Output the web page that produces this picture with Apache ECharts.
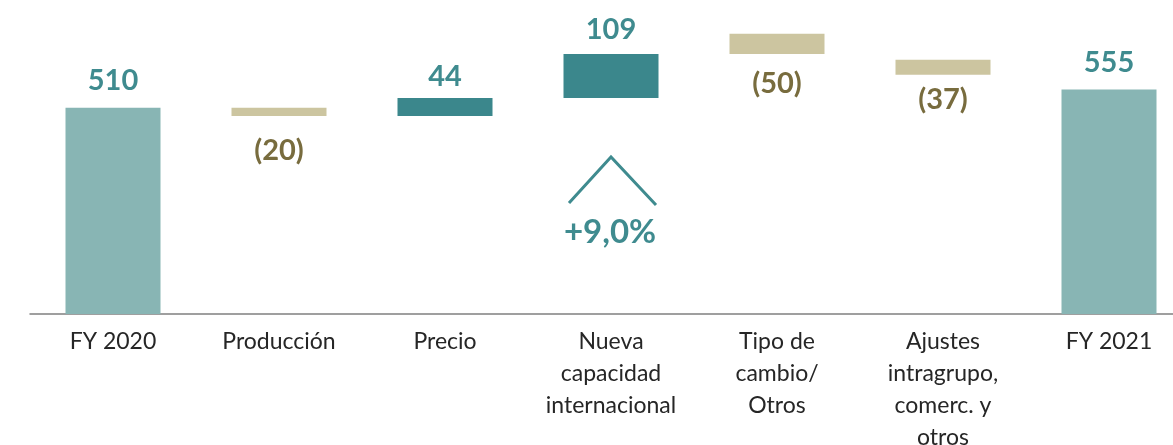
<!DOCTYPE html>
<html>
<head>
<meta charset="UTF-8" />
<title>Puente FY 2020 - FY 2021</title>
<script src="https://cdn.jsdelivr.net/npm/echarts@6/dist/echarts.min.js"></script>
<style type="text/css">
body{
	margin: 0px;
	background: #fff;
}
#chart{
	width: 1173px;
	height: 445px;
}
</style>
</head>
<body>
<div id="chart"></div>
<script type="text/javascript">

// categorias del eje x
var categories = ['FY 2020', 'Producción', 'Precio', 'Nueva\ncapacidad\ninternacional',
	'Tipo de\ncambio/\nOtros', 'Ajustes\nintragrupo,\ncomerc. y\notros', 'FY 2021'];
// base invisible
var baseValues = [0, 490, 490, 534, 643, 592, 0];
// altura de cada barra
var barValues = [510, 20, 44, 109, 50, 37, 555];
var barLabels = ['510', '(20)', '44', '109', '(50)', '(37)', '555'];
// tipo: total, sube, baja
var barKinds = ['total', 'down', 'up', 'up', 'down', 'down', 'total'];

var colors = {
	total: '#88b5b4',
	up: '#3b878c',
	down: '#ccc5a0'
};
var labelColors = {
	total: '#3f8b8f',
	up: '#3f8b8f',
	down: '#786c3e'
};
// separacion de la etiqueta respecto a la barra
var labelGap = [13, 20, 7, 10, 15, 10, 12];

var barData = barValues.map(function(v, i){
	var k = barKinds[i];
	return {
		value: v,
		itemStyle: { color: colors[k] },
		label: {
			show: true,
			position: k === 'down' ? 'bottom' : 'top',
			distance: labelGap[i],
			formatter: barLabels[i],
			color: labelColors[k],
			fontSize: 29,
			fontWeight: 'bold',
			fontFamily: 'Lato'
		}
	};
});

var chart = echarts.init(document.getElementById('chart'));
chart.setOption({
	animation: false,
	grid: { left: 30, top: 31, width: 1162, bottom: 131, outerBoundsMode: 'none', containLabel: false },
	xAxis: {
		type: 'category',
		data: categories,
		axisLine: { lineStyle: { color: '#808080', width: 1.5 } },
		axisTick: { show: false },
		axisLabel: {
			interval: 0,
			color: '#262626',
			fontSize: 23,
			lineHeight: 32,
			margin: 12,
			fontFamily: 'Lato'
		}
	},
	yAxis: {
		type: 'value',
		min: 0,
		max: 700,
		show: false
	},
	series: [
		{
			type: 'bar',
			stack: 'w',
			barWidth: 95,
			itemStyle: { color: 'transparent' },
			silent: true,
			data: baseValues
		},
		{
			type: 'bar',
			stack: 'w',
			barWidth: 95,
			data: barData
		}
	],
	graphic: [
		{
			type: 'polyline',
			shape: { points: [[569, 203], [611, 157], [656, 205]] },
			style: { stroke: '#3f8b8f', lineWidth: 3, fill: null }
		},
		{
			type: 'text',
			x: 610,
			y: 232,
			style: {
				text: '+9,0%',
				fill: '#3f8b8f',
				font: 'bold 33px Lato',
				align: 'center',
				verticalAlign: 'middle'
			}
		}
	]
});

</script>
</body>
</html>
